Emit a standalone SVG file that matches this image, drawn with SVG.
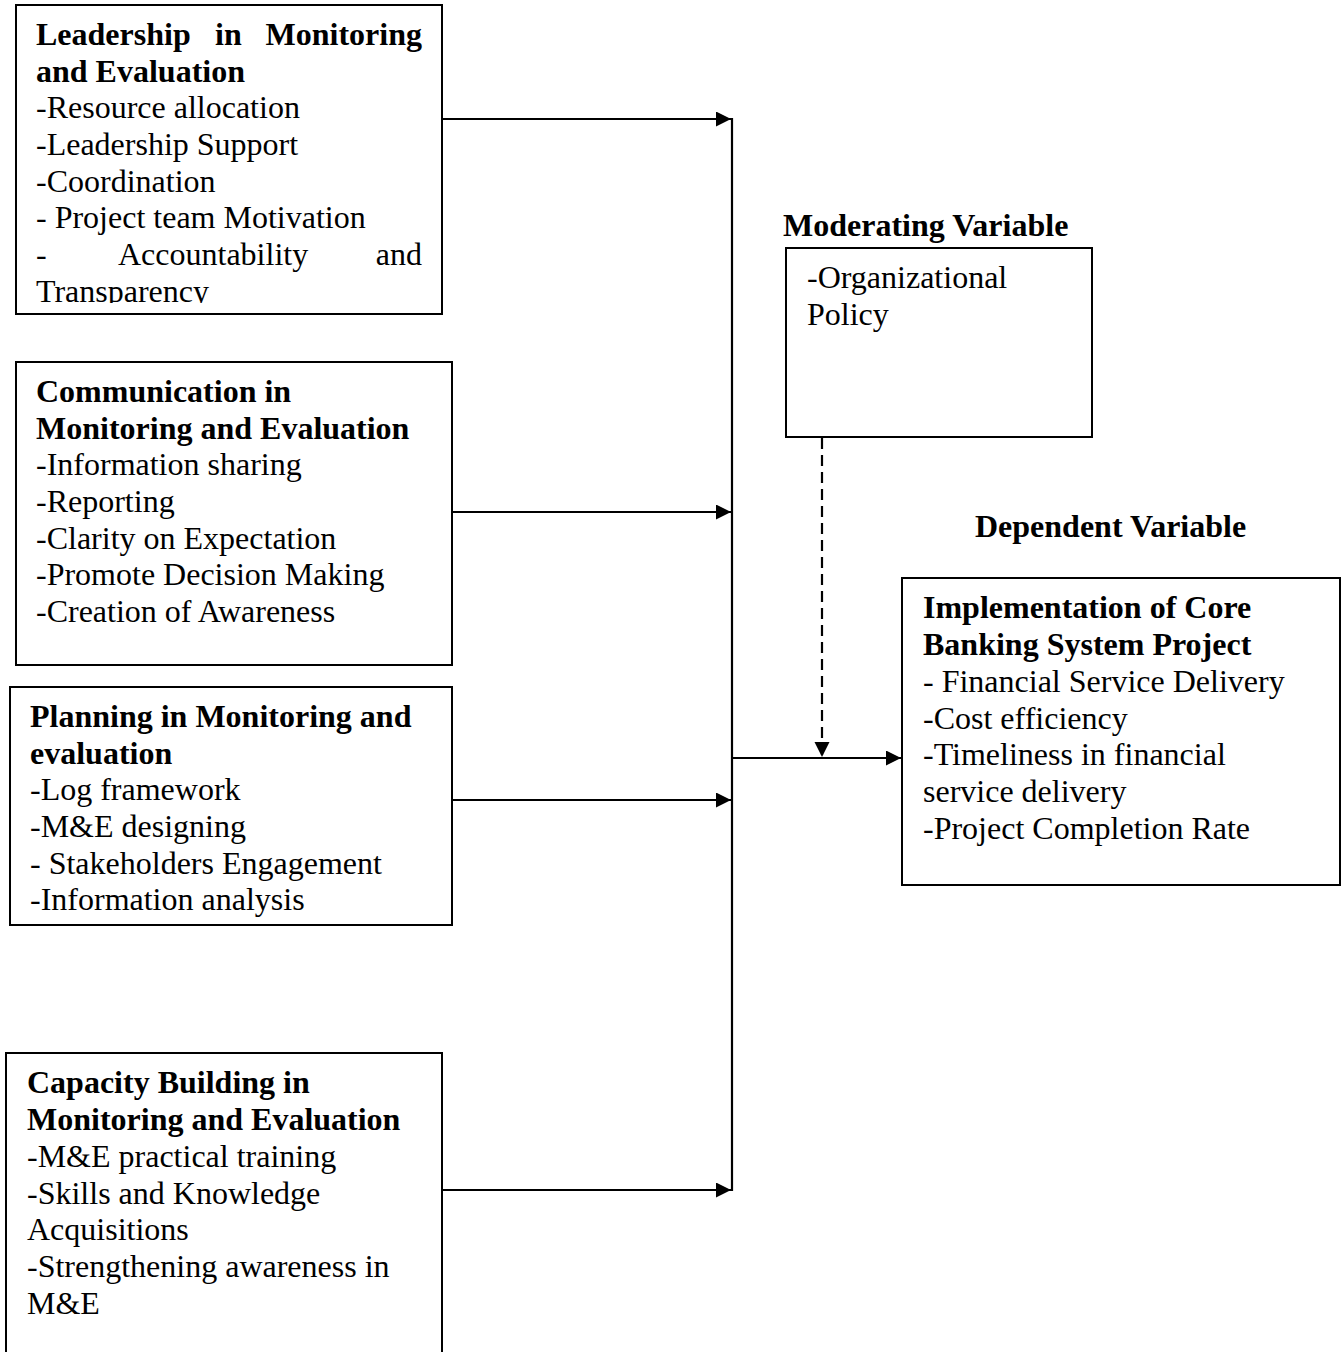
<svg xmlns="http://www.w3.org/2000/svg" width="1341" height="1352" viewBox="0 0 1341 1352">
<style>
.box{fill:#fff;stroke:#000;stroke-width:2}
text{font-family:"Liberation Serif","Times New Roman",serif;font-size:32px;fill:#000}
.b{font-weight:bold}
.ln{stroke:#000;stroke-width:2.2;fill:none}
.dash{stroke:#000;stroke-width:2.2;fill:none;stroke-dasharray:11 6}
</style>
<defs>
<marker id="ah" markerUnits="userSpaceOnUse" markerWidth="17" markerHeight="17" refX="15" refY="7.5" orient="auto">
<path d="M0,0 L15,7.5 L0,15 z" fill="#000"/>
</marker>
<clipPath id="c1"><rect x="16" y="5" width="426" height="298"/></clipPath>
</defs>
<rect width="1341" height="1352" fill="#fff"/>

<g id="leadership">
<rect class="box" x="16" y="5" width="426" height="309"/>
<g clip-path="url(#c1)">
<text class="b" x="36" y="45">Leadership</text>
<text class="b" x="215" y="45">in</text>
<text class="b" x="422" y="45" text-anchor="end">Monitoring</text>
<text class="b" x="36" y="81.5">and Evaluation</text>
<text x="36" y="118">-Resource allocation</text>
<text x="36" y="155">-Leadership Support</text>
<text x="36" y="191.5">-Coordination</text>
<text x="36" y="228">- Project team Motivation</text>
<text x="36" y="265">-</text>
<text x="118" y="265">Accountability</text>
<text x="422" y="265" text-anchor="end">and</text>
<text x="36" y="301.5">Transparency</text>
</g>
</g>

<g id="communication">
<rect class="box" x="16" y="362" width="436" height="303"/>
<text class="b" x="36" y="402">Communication in</text>
<text class="b" x="36" y="438.5">Monitoring and Evaluation</text>
<text x="36" y="475">-Information sharing</text>
<text x="36" y="512">-Reporting</text>
<text x="36" y="548.5">-Clarity on Expectation</text>
<text x="36" y="585">-Promote Decision Making</text>
<text x="36" y="621.5">-Creation of Awareness</text>
</g>

<g id="planning">
<rect class="box" x="10" y="687" width="442" height="238"/>
<text class="b" x="30" y="727">Planning in Monitoring and</text>
<text class="b" x="30" y="763.5">evaluation</text>
<text x="30" y="800">-Log framework</text>
<text x="30" y="837">-M&amp;E designing</text>
<text x="30" y="873.5">- Stakeholders Engagement</text>
<text x="30" y="910">-Information analysis</text>
</g>

<g id="capacity">
<rect class="box" x="6" y="1053" width="436" height="310"/>
<text class="b" x="27" y="1093">Capacity Building in</text>
<text class="b" x="27" y="1130">Monitoring and Evaluation</text>
<text x="27" y="1167">-M&amp;E practical training</text>
<text x="27" y="1203.5">-Skills and Knowledge</text>
<text x="27" y="1240">Acquisitions</text>
<text x="27" y="1277">-Strengthening awareness in</text>
<text x="27" y="1313.5">M&amp;E</text>
</g>

<g id="moderating">
<text class="b" x="783" y="236">Moderating Variable</text>
<rect class="box" x="786" y="248" width="306" height="189"/>
<text x="807" y="288">-Organizational</text>
<text x="807" y="324.5">Policy</text>
</g>

<g id="dependent">
<text class="b" x="975" y="537">Dependent Variable</text>
<rect class="box" x="902" y="578" width="438" height="307"/>
<text class="b" x="923" y="618">Implementation of Core</text>
<text class="b" x="923" y="655">Banking System Project</text>
<text x="923" y="692">- Financial Service Delivery</text>
<text x="923" y="728.5">-Cost efficiency</text>
<text x="923" y="765">-Timeliness in financial</text>
<text x="923" y="802">service delivery</text>
<text x="923" y="838.5">-Project Completion Rate</text>
</g>

<g id="connectors">
<line class="ln" x1="732" y1="118" x2="732" y2="1191"/>
<line class="ln" x1="443" y1="119" x2="731" y2="119" marker-end="url(#ah)"/>
<line class="ln" x1="453" y1="512" x2="731" y2="512" marker-end="url(#ah)"/>
<line class="ln" x1="453" y1="800" x2="731" y2="800" marker-end="url(#ah)"/>
<line class="ln" x1="443" y1="1190" x2="731" y2="1190" marker-end="url(#ah)"/>
<line class="ln" x1="732" y1="758" x2="901" y2="758" marker-end="url(#ah)"/>
<path class="dash" d="M822,438 L822,757" marker-end="url(#ah)"/>
</g>
</svg>
